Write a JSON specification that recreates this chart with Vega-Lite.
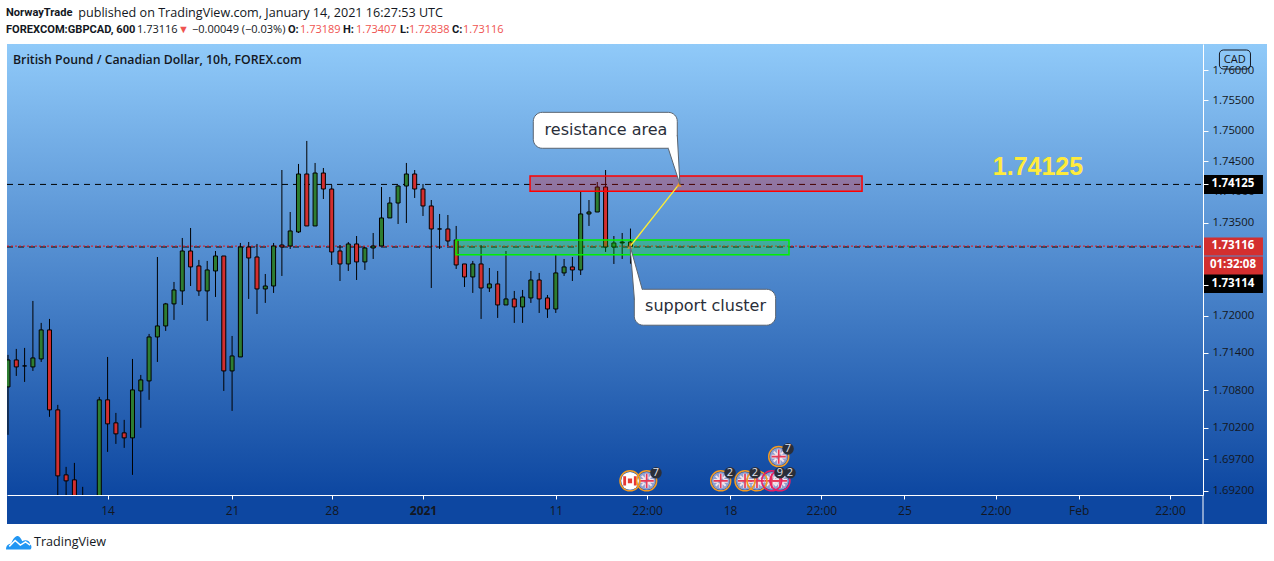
{"$schema":"https://vega.github.io/schema/vega-lite/v6.json","width":1196,"height":451,"autosize":"none","padding":{"left":7,"top":44,"right":71,"bottom":66},"background":"white","view":{"stroke":null},
"config":{"font":"Open Sans"},
"datasets":{"candles":[
{"i":0,"dir":"up","high":1.71368,"open":1.70855,"close":1.71287,"low":1.7009},
{"i":1,"dir":"down","high":1.71464,"open":1.71287,"close":1.71175,"low":1.71031},
{"i":2,"dir":"flat","high":1.7148,"open":1.71191,"close":1.71191,"low":1.70935},
{"i":3,"dir":"up","high":1.72236,"open":1.71175,"close":1.71319,"low":1.71111},
{"i":4,"dir":"up","high":1.71882,"open":1.71303,"close":1.71769,"low":1.71255},
{"i":5,"dir":"down","high":1.71946,"open":1.71769,"close":1.70488,"low":1.70377},
{"i":6,"dir":"down","high":1.70568,"open":1.70488,"close":1.69438,"low":1.69058},
{"i":7,"dir":"down","high":1.69581,"open":1.69454,"close":1.69359,"low":1.69058},
{"i":8,"dir":"down","high":1.69644,"open":1.69375,"close":1.6895,"low":1.688},
{"i":9,"dir":"down","high":1.69264,"open":1.6905,"close":1.6895,"low":1.6885},
{"i":11,"dir":"up","high":1.70696,"open":1.688,"close":1.70648,"low":1.687},
{"i":12,"dir":"down","high":1.71335,"open":1.70648,"close":1.70265,"low":1.69819},
{"i":13,"dir":"down","high":1.7044,"open":1.70281,"close":1.70106,"low":1.69946},
{"i":14,"dir":"down","high":1.70329,"open":1.70122,"close":1.70042,"low":1.69883},
{"i":15,"dir":"up","high":1.71303,"open":1.70042,"close":1.70807,"low":1.69454},
{"i":16,"dir":"up","high":1.71047,"open":1.70791,"close":1.70967,"low":1.70202},
{"i":17,"dir":"up","high":1.71705,"open":1.70951,"close":1.71656,"low":1.70648},
{"i":18,"dir":"up","high":1.72946,"open":1.71656,"close":1.71833,"low":1.71255},
{"i":19,"dir":"up","high":1.72204,"open":1.71833,"close":1.72188,"low":1.71753},
{"i":20,"dir":"up","high":1.72542,"open":1.72188,"close":1.72413,"low":1.7193},
{"i":21,"dir":"up","high":1.73254,"open":1.72397,"close":1.73043,"low":1.72171},
{"i":22,"dir":"down","high":1.73416,"open":1.73043,"close":1.72785,"low":1.72477},
{"i":23,"dir":"down","high":1.72898,"open":1.72801,"close":1.72397,"low":1.72317},
{"i":24,"dir":"up","high":1.72882,"open":1.72397,"close":1.72736,"low":1.71914},
{"i":25,"dir":"up","high":1.73043,"open":1.7272,"close":1.72962,"low":1.723},
{"i":26,"dir":"down","high":1.72962,"open":1.72962,"close":1.71111,"low":1.70791},
{"i":27,"dir":"up","high":1.71672,"open":1.71111,"close":1.71351,"low":1.70472},
{"i":28,"dir":"up","high":1.73173,"open":1.71335,"close":1.73108,"low":1.71335},
{"i":29,"dir":"down","high":1.73189,"open":1.73108,"close":1.7293,"low":1.72268},
{"i":30,"dir":"down","high":1.73157,"open":1.72946,"close":1.72429,"low":1.72026},
{"i":31,"dir":"up","high":1.72671,"open":1.72429,"close":1.72477,"low":1.72204},
{"i":32,"dir":"up","high":1.73173,"open":1.72477,"close":1.73124,"low":1.72365},
{"i":33,"dir":"down","high":1.7436,"open":1.7314,"close":1.73108,"low":1.72639},
{"i":34,"dir":"up","high":1.73676,"open":1.73124,"close":1.73368,"low":1.73076},
{"i":35,"dir":"up","high":1.74459,"open":1.73352,"close":1.74295,"low":1.73335},
{"i":36,"dir":"down","high":1.74835,"open":1.74295,"close":1.73449,"low":1.73449},
{"i":37,"dir":"up","high":1.74475,"open":1.73449,"close":1.74311,"low":1.73449},
{"i":38,"dir":"down","high":1.74393,"open":1.74311,"close":1.7405,"low":1.73887},
{"i":39,"dir":"down","high":1.74115,"open":1.7405,"close":1.73027,"low":1.72817},
{"i":40,"dir":"down","high":1.7314,"open":1.73043,"close":1.72833,"low":1.72558},
{"i":41,"dir":"up","high":1.73189,"open":1.72833,"close":1.73157,"low":1.7272},
{"i":42,"dir":"down","high":1.73286,"open":1.73157,"close":1.72866,"low":1.72574},
{"i":43,"dir":"up","high":1.73108,"open":1.72866,"close":1.73092,"low":1.72736},
{"i":44,"dir":"up","high":1.73335,"open":1.73092,"close":1.73124,"low":1.72914},
{"i":45,"dir":"up","high":1.74083,"open":1.73124,"close":1.73579,"low":1.73124},
{"i":46,"dir":"up","high":1.7392,"open":1.73579,"close":1.73822,"low":1.73579},
{"i":47,"dir":"up","high":1.74115,"open":1.73822,"close":1.74099,"low":1.73481},
{"i":48,"dir":"up","high":1.74475,"open":1.74099,"close":1.74295,"low":1.73497},
{"i":49,"dir":"down","high":1.7436,"open":1.74295,"close":1.7405,"low":1.73904},
{"i":50,"dir":"down","high":1.74132,"open":1.7405,"close":1.73774,"low":1.73611},
{"i":51,"dir":"down","high":1.73871,"open":1.73774,"close":1.734,"low":1.72445},
{"i":52,"dir":"flat","high":1.73644,"open":1.734,"close":1.734,"low":1.73076},
{"i":53,"dir":"down","high":1.73627,"open":1.734,"close":1.73205,"low":1.73124},
{"i":54,"dir":"down","high":1.73449,"open":1.73222,"close":1.72817,"low":1.72752},
{"i":55,"dir":"down","high":1.72833,"open":1.72833,"close":1.72623,"low":1.72461},
{"i":56,"dir":"up","high":1.72882,"open":1.72623,"close":1.72833,"low":1.72365},
{"i":57,"dir":"down","high":1.7314,"open":1.72833,"close":1.72445,"low":1.71946},
{"i":58,"dir":"up","high":1.72768,"open":1.72445,"close":1.7251,"low":1.72381},
{"i":59,"dir":"down","high":1.7272,"open":1.7251,"close":1.72171,"low":1.71962},
{"i":60,"dir":"up","high":1.73043,"open":1.72171,"close":1.72268,"low":1.72171},
{"i":61,"dir":"down","high":1.72397,"open":1.72268,"close":1.72139,"low":1.71882},
{"i":62,"dir":"up","high":1.72413,"open":1.72139,"close":1.723,"low":1.71882},
{"i":63,"dir":"up","high":1.7272,"open":1.72284,"close":1.72574,"low":1.72204},
{"i":64,"dir":"down","high":1.72688,"open":1.72574,"close":1.72268,"low":1.72042},
{"i":65,"dir":"down","high":1.72332,"open":1.72284,"close":1.72106,"low":1.71962},
{"i":66,"dir":"up","high":1.72978,"open":1.72106,"close":1.72688,"low":1.72042},
{"i":67,"dir":"up","high":1.72914,"open":1.72688,"close":1.72785,"low":1.72639},
{"i":68,"dir":"down","high":1.72946,"open":1.72785,"close":1.72736,"low":1.72558},
{"i":69,"dir":"up","high":1.74002,"open":1.72736,"close":1.73644,"low":1.72655},
{"i":70,"dir":"up","high":1.73871,"open":1.73644,"close":1.73676,"low":1.73449},
{"i":71,"dir":"up","high":1.74164,"open":1.73676,"close":1.74083,"low":1.73676},
{"i":72,"dir":"down","high":1.7436,"open":1.74083,"close":1.73108,"low":1.73027},
{"i":73,"dir":"up","high":1.73286,"open":1.73108,"close":1.73173,"low":1.72833},
{"i":74,"dir":"flat","high":1.73335,"open":1.73189,"close":1.73173,"low":1.72914},
{"i":75,"dir":"down","high":1.73407,"open":1.73189,"close":1.73116,"low":1.72838}
],
"events":[
{"kind":"ca","ring":"event","i":74.94,"p":1.69359},
{"kind":"uk","ring":"event","i":76.95,"p":1.69359},
{"kind":"uk","ring":"event","i":85.87,"p":1.69359},
{"kind":"uk","ring":"event","i":90.24,"p":1.69359},
{"kind":"uk","ring":"event","i":88.8,"p":1.69359},
{"kind":"uk","ring":"high","i":93.01,"p":1.69359},
{"kind":"uk","ring":"high","i":92.01,"p":1.69359},
{"kind":"uk","ring":"event","i":92.86,"p":1.69744}
],
"badges":[
{"i":78.07,"p":1.69486,"label":"7"},
{"i":86.99,"p":1.69486,"label":"2"},
{"i":90.0,"p":1.69486,"label":"2"},
{"i":94.22,"p":1.69486,"label":"2"},
{"i":93.01,"p":1.69486,"label":"9"},
{"i":93.98,"p":1.69867,"label":"7"}
]},
"encoding":{
"x":{"field":"i","type":"quantitative","scale":{"domain":[-0.12,143.98],"nice":false,"zero":false,"padding":0},"axis":{"zindex":1,"title":null,"grid":false,"domainColor":"#ffffff","tickColor":"#ffffff","tickSize":4,"labelColor":"#131722","labelFontSize":12,"labelPadding":6,"labelFont":"Open Sans","labelOverlap":false,"labelFlush":false,"labelBound":false,"values":[12,27,39,50,66,77,87,98,108,119,129,140],"labelExpr":"{'12':'14','27':'21','39':'28','50':'2021','66':'11','77':'22:00','87':'18','98':'22:00','108':'25','119':'22:00','129':'Feb','140':'22:00'}[datum.value]","labelFontWeight":{"condition":{"test":"datum.value==50","value":"bold"},"value":"normal"}}},
"y":{"field":"p","type":"quantitative","scale":{"type":"log","domain":[1.69135,1.76429],"nice":false,"zero":false},"axis":{"orient":"right","zindex":1,"title":null,"grid":false,"domainColor":"#ffffff","tickColor":"#ffffff","tickSize":5,"labelColor":"#131722","labelFontSize":11.3,"labelPadding":4,"labelFont":"Open Sans","labelOverlap":false,"labelFlush":false,"labelBound":false,"values":[1.76,1.755,1.75,1.745,1.74125,1.735,1.725,1.72,1.714,1.708,1.702,1.697,1.692],"labelExpr":"datum.value==1.74125||datum.value==1.725?'':format(datum.value,'.5f')"}}
},
"layer":[
{"data":{"values":[{"i":-0.12,"i2":151.69,"p":1.76429,"p2":1.69135}]},"mark":{"type":"rect","clip":false,"color":{"gradient":"linear","x1":0,"y1":0,"x2":0,"y2":1,"stops":[{"offset":0,"color":"#90caf9"},{"offset":1,"color":"#0d47a1"}]}},"encoding":{"x2":{"field":"i2"},"y2":{"field":"p2"}}},
{"data":{"values":[{"i":-0.12,"i2":151.69,"p":1.69135,"p2":1.68677}]},"mark":{"type":"rect","clip":false,"color":"#0d47a1"},"encoding":{"x2":{"field":"i2"},"y2":{"field":"p2"}}},
{"data":{"values":[{"i":143.98,"p":1.69135,"p2":1.68677}]},"mark":{"type":"rule","clip":false,"color":"#ffffff"},"encoding":{"y2":{"field":"p2"}}},
{"data":{"values":[{"i":145.18,"p":1.74,"label":"1.74000"}]},"mark":{"type":"text","clip":false,"align":"left","fontSize":11.3,"color":"#131722"},"encoding":{"text":{"field":"label"}}},
{"data":{"values":[{"i":-0.12,"i2":143.98,"p":1.74125},{"i":-0.12,"i2":143.98,"p":1.73108}]},"mark":{"type":"rule","color":"#000000","strokeWidth":1,"strokeDash":[6,5]},"encoding":{"x2":{"field":"i2"}}},
{"data":{"values":[{"i":-0.12,"i2":143.98,"p":1.73122}]},"mark":{"type":"rule","color":"#f01010","strokeWidth":1,"strokeDash":[2,2]},"encoding":{"x2":{"field":"i2"}}},
{"data":{"name":"candles"},"mark":{"type":"rule","color":"#000000","strokeWidth":1,"clip":true},"encoding":{"y":{"field":"high","type":"quantitative","axis":{"orient":"right","zindex":1,"title":null,"grid":false,"domainColor":"#ffffff","tickColor":"#ffffff","tickSize":5,"labelColor":"#131722","labelFontSize":11.3,"labelPadding":4,"labelFont":"Open Sans","labelOverlap":false,"labelFlush":false,"labelBound":false,"values":[1.76,1.755,1.75,1.745,1.74125,1.735,1.725,1.72,1.714,1.708,1.702,1.697,1.692],"labelExpr":"datum.value==1.74125||datum.value==1.725?'':format(datum.value,'.5f')"}},"y2":{"field":"low"}}},
{"data":{"name":"candles"},"mark":{"type":"bar","size":4,"stroke":"#000000","strokeWidth":1,"clip":true,"orient":"vertical"},"encoding":{"y":{"field":"open","type":"quantitative","axis":{"orient":"right","zindex":1,"title":null,"grid":false,"domainColor":"#ffffff","tickColor":"#ffffff","tickSize":5,"labelColor":"#131722","labelFontSize":11.3,"labelPadding":4,"labelFont":"Open Sans","labelOverlap":false,"labelFlush":false,"labelBound":false,"values":[1.76,1.755,1.75,1.745,1.74125,1.735,1.725,1.72,1.714,1.708,1.702,1.697,1.692],"labelExpr":"datum.value==1.74125||datum.value==1.725?'':format(datum.value,'.5f')"}},"y2":{"field":"close"},"color":{"field":"dir","type":"nominal","legend":null,"scale":{"domain":["up","down","flat"],"range":["#2e7d32","#d32f2f","#000000"]}}}},
{"data":{"values":[{"i":62.9,"i2":102.9,"p":1.74262,"p2":1.74013}]},"mark":{"type":"rect","fill":"#ff0000","fillOpacity":0.27,"stroke":"#ff0000","strokeWidth":1.5},"encoding":{"x2":{"field":"i2"},"y2":{"field":"p2"}}},
{"data":{"values":[{"i":53.98,"i2":94.1,"p":1.73221,"p2":1.72983}]},"mark":{"type":"rect","fill":"#00ff00","fillOpacity":0.25,"stroke":"#00f000","strokeWidth":1.5},"encoding":{"x2":{"field":"i2"},"y2":{"field":"p2"}}},
{"data":{"values":[{"i":74.94,"p":1.73116,"o":0},{"i":80.84,"p":1.74125,"o":1}]},"mark":{"type":"line","color":"#ffee33","strokeWidth":1.3},"encoding":{"order":{"field":"o"}}},
{"data":{"values":[{"i":74.94,"p":1.73116},{"i":80.84,"p":1.74125}]},"mark":{"type":"point","shape":"triangle-up","filled":true,"color":"#f7931a","opacity":0.75,"size":30}},
{"data":{"values":[{"i":63.29,"i2":80.64,"p":1.75304,"p2":1.74715},{"i":75.46,"i2":92.49,"p":1.72424,"p2":1.71845}]},"mark":{"type":"rect","fill":"#ffffff","stroke":"#5a6470","strokeWidth":1,"cornerRadius":9},"encoding":{"x2":{"field":"i2"},"y2":{"field":"p2"}}},
{"data":{"values":[{"i":79.55,"p":1.74715,"o":0},{"i":80.96,"p":1.74125,"o":1},{"i":80.64,"p":1.74932,"o":2}]},"mark":{"type":"line","fill":"#ffffff","stroke":"#5a6470","strokeWidth":1},"encoding":{"order":{"field":"o"}}},
{"data":{"values":[{"i":76.42,"p":1.72421,"o":0},{"i":74.94,"p":1.73132,"o":1},{"i":75.48,"p":1.72252,"o":2}]},"mark":{"type":"line","fill":"#ffffff","stroke":"#5a6470","strokeWidth":1},"encoding":{"order":{"field":"o"}}},
{"data":{"values":[{"i":72.05,"p":1.75014,"label":"resistance area"},{"i":84.04,"p":1.72155,"label":"support cluster"}]},"mark":{"type":"text","font":"DejaVu Sans","fontSize":16,"color":"#2a2e39"},"encoding":{"text":{"field":"label"}}},
{"data":{"values":[{"i":124.1,"p":1.74409,"label":"1.74125"}]},"mark":{"type":"text","font":"Liberation Sans","fontWeight":"bold","fontSize":25,"color":"#ffeb3b"},"encoding":{"text":{"field":"label"}}},
{"data":{"values":[{"i":147.59,"p":1.74125,"label":"1.74125"},{"i":147.59,"p":1.72517,"label":"1.73114"}]},"mark":{"type":"rect","clip":false,"width":60,"height":19,"color":"#000000"}},
{"data":{"values":[{"i":147.59,"p":1.73116,"label":"1.73116"},{"i":147.59,"p":1.72809,"label":"01:32:08"}]},"mark":{"type":"rect","clip":false,"width":60,"height":18,"color":"#d32f2f"}},
{"data":{"values":[{"i":147.59,"p":1.74125,"label":"1.74125"},{"i":147.59,"p":1.72517,"label":"1.73114"},{"i":147.59,"p":1.73116,"label":"1.73116"},{"i":147.59,"p":1.72809,"label":"01:32:08"}]},"mark":{"type":"text","clip":false,"fontSize":11.5,"fontWeight":"bold","color":"#ffffff"},"encoding":{"text":{"field":"label"}}},
{"data":{"values":[{"i":145.96,"i2":149.7,"p":1.7633,"p2":1.76016}]},"mark":{"type":"rect","clip":false,"fillOpacity":0,"fill":"#ffffff","stroke":"#131722","strokeWidth":1,"cornerRadius":4},"encoding":{"x2":{"field":"i2"},"y2":{"field":"p2"}}},
{"data":{"values":[{"i":147.8,"p":1.76173,"label":"CAD"}]},"mark":{"type":"text","clip":false,"fontSize":11,"color":"#131722"},"encoding":{"text":{"field":"label"}}},
{"data":{"values":[{"i":0.6,"p":1.76165,"label":"British Pound / Canadian Dollar, 10h, FOREX.com"}]},"mark":{"type":"text","clip":false,"align":"left","fontSize":12.3,"fontWeight":600,"color":"#131722"},"encoding":{"text":{"field":"label"}}},
{"data":{"name":"events"},"mark":{"type":"point","filled":true,"size":314,"color":"#8fa0d0","opacity":1},"transform":[{"filter":"datum.kind=='uk'"}]},
{"data":{"name":"events"},"mark":{"type":"point","filled":true,"size":314,"color":"#ffffff","opacity":1},"transform":[{"filter":"datum.kind=='ca'"}]},
{"data":{"name":"events"},"mark":{"type":"point","filled":true,"size":200,"color":"#f4e4ea","opacity":1,"shape":"M-0.25,-1H0.25V-0.25H1V0.25H0.25V1H-0.25V0.25H-1V-0.25H-0.25Z M-0.8,-0.6L-0.6,-0.8L0.8,0.6L0.6,0.8Z M0.8,-0.6L0.6,-0.8L-0.8,0.6L-0.6,0.8Z"},"transform":[{"filter":"datum.kind=='uk'"}]},
{"data":{"name":"events"},"mark":{"type":"point","filled":true,"size":200,"color":"#e53957","opacity":1,"shape":"M-0.12,-1H0.12V-0.12H1V0.12H0.12V1H-0.12V0.12H-1V-0.12H-0.12Z"},"transform":[{"filter":"datum.kind=='uk'"}]},
{"data":{"name":"events"},"mark":{"type":"point","filled":true,"size":200,"color":"#e53935","opacity":1,"shape":"M-0.95,-0.65H-0.55V0.65H-0.95Z M0.55,-0.65H0.95V0.65H0.55Z M-0.3,-0.35H0.3V0.35H-0.3Z"},"transform":[{"filter":"datum.kind=='ca'"}]},
{"data":{"name":"events"},"mark":{"type":"point","size":400,"strokeWidth":1.5,"fillOpacity":0,"opacity":1},"encoding":{"stroke":{"field":"ring","type":"nominal","legend":null,"scale":{"domain":["event","high"],"range":["#f59b21","#e91e63"]}}}},
{"data":{"name":"badges"},"mark":{"type":"point","filled":true,"size":133,"color":"#2a2e39","opacity":1}},
{"data":{"name":"badges"},"mark":{"type":"text","fontSize":11,"color":"#e0e3eb"},"encoding":{"text":{"field":"label"}}},
{"data":{"values":[{"i":-0.24,"p":1.76942,"label":"NorwayTrade"},{"i":-0.24,"p":1.7666,"label":"FOREXCOM:GBPCAD, 600"},{"i":33.73,"p":1.7666,"label":"O:"},{"i":40.36,"p":1.7666,"label":"H:"},{"i":47.23,"p":1.7666,"label":"L:"},{"i":53.49,"p":1.7666,"label":"C:"}]},"mark":{"type":"text","clip":false,"align":"left","font":"Roboto","fontSize":11.1,"fontWeight":"bold","color":"#131722"},"encoding":{"text":{"field":"label"}}},
{"data":{"values":[{"i":8.47,"p":1.76942,"label":"published on TradingView.com, January 14, 2021 16:27:53 UTC"},{"i":3.13,"p":1.68385,"label":"TradingView"}]},"mark":{"type":"text","clip":false,"align":"left","fontSize":12.6,"color":"#131722"},"encoding":{"text":{"field":"label"}}},
{"data":{"values":[{"i":15.54,"p":1.7666,"label":"1.73116"},{"i":22.17,"p":1.7666,"label":"−0.00049 (−0.03%)"}]},"mark":{"type":"text","clip":false,"align":"left","fontSize":11,"color":"#131722"},"encoding":{"text":{"field":"label"}}},
{"data":{"values":[{"i":35.18,"p":1.7666,"label":"1.73189"},{"i":41.93,"p":1.7666,"label":"1.73407"},{"i":48.31,"p":1.7666,"label":"1.72838"},{"i":54.82,"p":1.7666,"label":"1.73116"}]},"mark":{"type":"text","clip":false,"align":"left","fontSize":11,"color":"#ef5350"},"encoding":{"text":{"field":"label"}}},
{"data":{"values":[{"i":21.14,"p":1.7666,"label":"▼"}]},"mark":{"type":"text","clip":false,"fontSize":11,"color":"#ef5350"},"encoding":{"text":{"field":"label"}}},
{"data":{"values":[{"i":1.33,"p":1.68385}]},"mark":{"type":"point","clip":false,"filled":true,"size":676,"color":"#2196f3","opacity":1,"shape":"M-1,0.55C-1,0.2 -0.8,0.1 -0.6,0.1C-0.5,-0.3 -0.25,-0.5 -0.1,-0.5C0.05,-0.5 0.15,-0.3 0.25,-0.1C0.45,-0.25 0.85,-0.2 0.85,0.15C1,0.2 1,0.55 0.8,0.55Z"}},
{"data":{"values":[{"i":1.33,"p":1.68385}]},"mark":{"type":"point","clip":false,"filled":false,"size":676,"stroke":"#ffffff","strokeWidth":1.5,"opacity":1,"shape":"M-0.75,0.3L-0.3,-0.15L0.1,0.2L0.5,-0.05L0.85,0.2"}}
]}
